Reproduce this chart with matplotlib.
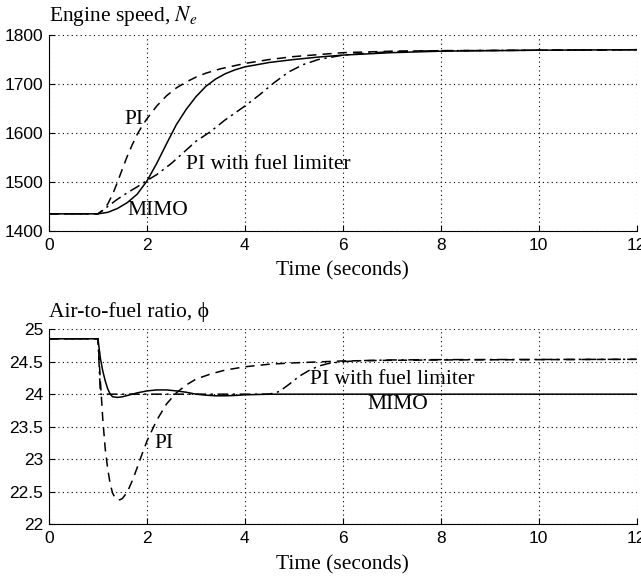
import matplotlib
matplotlib.use("Agg")
import matplotlib.pyplot as plt

# Engine speed (top panel)
t_mimo_n = [0, 1.0, 1.2, 1.4, 1.6, 1.8, 2.0, 2.2, 2.4, 2.6, 2.8, 3.0, 3.2, 3.4, 3.6,
            3.8, 4.0, 4.5, 5.0, 5.5, 6.0, 7.0, 8.0, 10.0, 12.0]
n_mimo = [1435, 1435, 1438, 1446, 1458, 1475, 1502, 1538, 1578, 1617, 1648, 1674, 1695,
          1710, 1721, 1729, 1735, 1744, 1750, 1755, 1759, 1764, 1767, 1769, 1770]

t_pi_n = [0, 1.0, 1.1, 1.2, 1.3, 1.4, 1.5, 1.6, 1.7, 1.8, 1.9, 2.0, 2.2, 2.4, 2.6, 2.8,
          3.0, 3.2, 3.5, 4.0, 4.5, 5.0, 6.0, 7.0, 8.0, 10.0, 12.0]
n_pi = [1435, 1435, 1442, 1455, 1475, 1500, 1527, 1553, 1576, 1597, 1614, 1629, 1655,
        1676, 1692, 1704, 1714, 1722, 1731, 1742, 1750, 1756, 1764, 1767, 1768, 1769, 1770]

t_lim_n = [0, 1.0, 1.2, 1.4, 1.6, 1.8, 2.0, 2.2, 2.5, 2.8, 3.0, 3.3, 3.6, 4.0, 4.3,
           4.6, 4.9, 5.2, 5.5, 6.0, 6.5, 7.0, 8.0, 10.0, 12.0]
n_lim = [1435, 1435, 1450, 1465, 1478, 1490, 1503, 1515, 1538, 1565, 1583, 1603, 1627,
         1655, 1678, 1703, 1725, 1740, 1750, 1759, 1763, 1766, 1768, 1769, 1770]

# Air-to-fuel ratio (bottom panel)
t_mimo_a = [0, 1.0, 1.05, 1.1, 1.15, 1.2, 1.25, 1.3, 1.4, 1.5, 1.6, 1.8, 2.0, 2.2, 2.4,
            2.6, 2.8, 3.0, 3.2, 3.4, 3.6, 3.8, 4.0, 4.5, 12.0]
a_mimo = [24.85, 24.85, 24.55, 24.35, 24.2, 24.08, 24.0, 23.96, 23.95, 23.96, 23.98,
          24.02, 24.05, 24.065, 24.065, 24.05, 24.03, 24.0, 23.985, 23.975, 23.975,
          23.98, 23.99, 24.0, 24.0]

t_pi_a = [0, 1.0, 1.05, 1.1, 1.15, 1.2, 1.25, 1.3, 1.35, 1.4, 1.45, 1.5, 1.6, 1.7, 1.8,
          1.9, 2.0, 2.2, 2.4, 2.6, 2.8, 3.0, 3.3, 3.6, 4.0, 4.5, 5.0, 6.0, 7.0, 8.0, 10.0, 12.0]
a_pi = [24.85, 24.85, 24.2, 23.6, 23.15, 22.85, 22.62, 22.48, 22.41, 22.38, 22.38, 22.4,
        22.5, 22.67, 22.87, 23.08, 23.28, 23.6, 23.85, 24.02, 24.14, 24.23, 24.31, 24.37,
        24.42, 24.46, 24.48, 24.51, 24.52, 24.525, 24.53, 24.535]

t_lim_a = [0, 1.0, 1.05, 4.0, 4.5, 4.7, 4.9, 5.1, 5.3, 5.5, 5.7, 6.0, 6.4, 7.0, 8.0, 12.0]
a_lim = [24.85, 24.85, 24.0, 24.0, 24.0, 24.04, 24.15, 24.27, 24.36, 24.43, 24.47, 24.5,
         24.515, 24.525, 24.53, 24.535]

serif = ["Liberation Serif", "DejaVu Serif"]
fs = 15.5
plt.rcParams["font.family"] = "Liberation Sans"
plt.rcParams["mathtext.fontset"] = "stix"

fig = plt.figure(figsize=(6.41, 5.77), dpi=100)
ax1 = fig.add_axes([0.0764, 0.5997, 0.917, 0.3396])
ax2 = fig.add_axes([0.0764, 0.0910, 0.917, 0.3388])

lw = 1.1
ax1.plot(t_mimo_n, n_mimo, "k-", lw=lw)
ax1.plot(t_pi_n, n_pi, "k", ls=(0, (6, 4)), lw=lw)
ax1.plot(t_lim_n, n_lim, "k", ls=(0, (7, 3, 1.5, 3)), lw=lw)
ax1.set_ylim(1400, 1800)
ax1.set_yticks([1400, 1500, 1600, 1700, 1800])
ax1.text(1.55, 1627, "PI", family=serif, fontsize=fs, va="center")
ax1.text(2.8, 1535, "PI with fuel limiter", family=serif, fontsize=fs, va="center")
ax1.text(1.6, 1441, "MIMO", family=serif, fontsize=fs, va="center")
ax1.set_title("Engine speed, $N_e$", loc="left", family=serif, fontsize=fs, pad=10)

ax2.plot(t_mimo_a, a_mimo, "k-", lw=lw)
ax2.plot(t_pi_a, a_pi, "k", ls=(0, (6, 4)), lw=lw)
ax2.plot(t_lim_a, a_lim, "k", ls=(0, (7, 3, 1.5, 3)), lw=lw)
ax2.set_ylim(22, 25)
ax2.set_yticks([22, 22.5, 23, 23.5, 24, 24.5, 25])
ax2.set_yticklabels(["22", "22.5", "23", "23.5", "24", "24.5", "25"])
ax2.text(5.32, 24.22, "PI with fuel limiter", family=serif, fontsize=fs, va="center")
ax2.text(6.5, 23.84, "MIMO", family=serif, fontsize=fs, va="center")
ax2.text(2.16, 23.24, "PI", family=serif, fontsize=fs, va="center")
ax2.set_title("Air-to-fuel ratio, \u03d5", loc="left", family=serif, fontsize=fs, pad=9)

for ax in (ax1, ax2):
    ax.set_xlim(0, 12)
    ax.set_xticks(range(0, 13, 2))
    ax.set_xlabel("Time (seconds)", family=serif, fontsize=fs, labelpad=6)
    ax.grid(True, color="black", ls=(0, (1, 3)), lw=0.8)
    ax.spines["top"].set_visible(False)
    ax.spines["right"].set_visible(False)
    ax.tick_params(direction="in", length=4, labelsize=12.5)
    ax.tick_params(axis="x", pad=5)
    ax.tick_params(axis="y", pad=4)
    ax.tick_params(top=False, right=False)

fig.savefig("out.png", dpi=100)
